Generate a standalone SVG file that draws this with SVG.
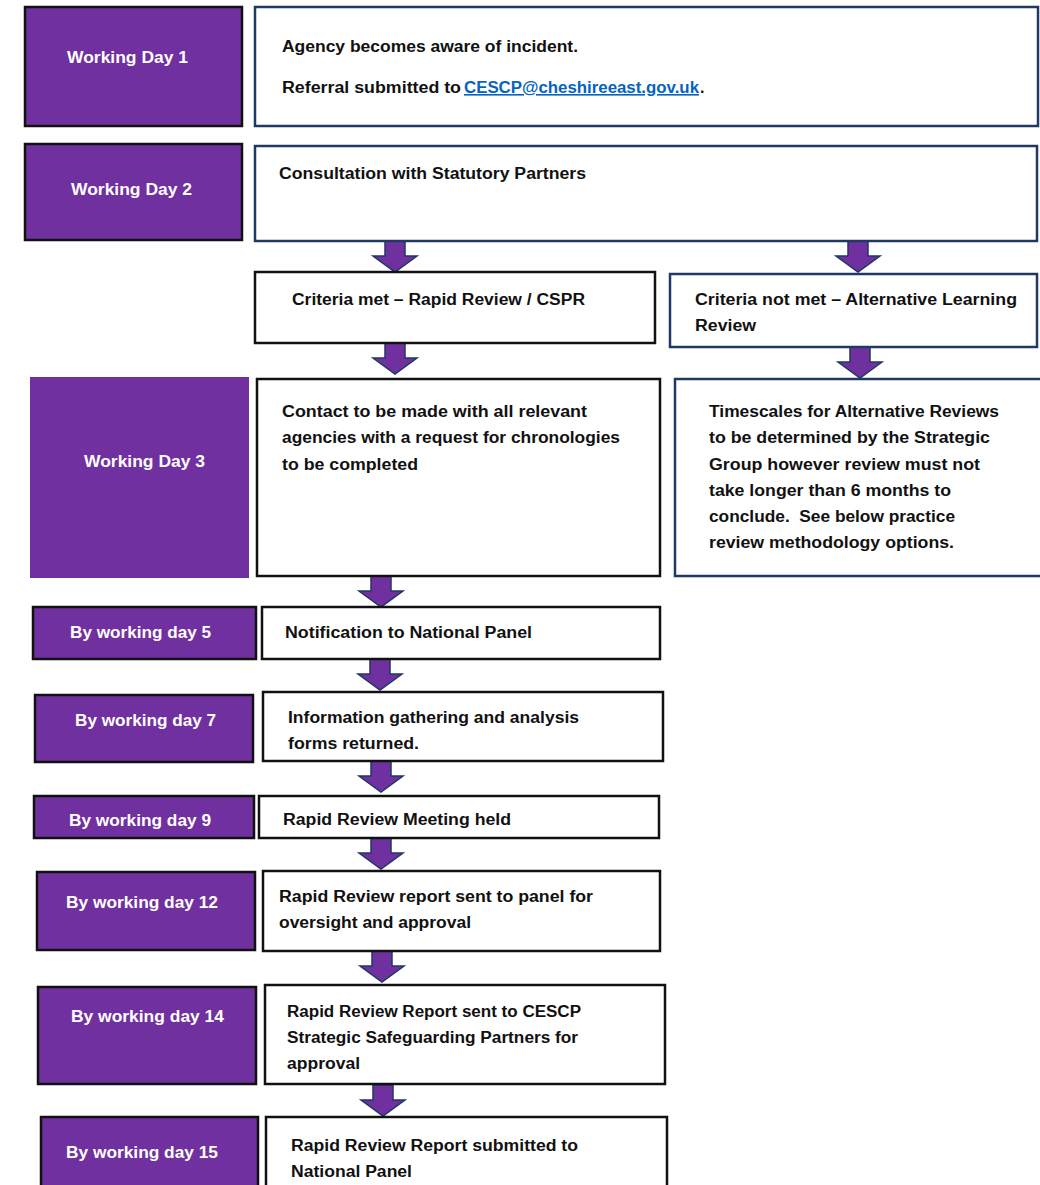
<svg xmlns="http://www.w3.org/2000/svg" xmlns:xlink="http://www.w3.org/1999/xlink" width="1040" height="1185" viewBox="0 0 1040 1185">
<style>
.day{fill:#7030a0;stroke:#111;stroke-width:2.5}
.dayn{fill:#7030a0;stroke:none}
.box{fill:#fff;stroke:#111;stroke-width:2.5}
.boxn{fill:#fff;stroke:#1f3864;stroke-width:2.5}
text{font-family:"Liberation Sans",Arial,sans-serif;font-weight:bold;font-size:16px}
.w{fill:#fff}
.t{fill:#111}
.link{fill:#0563c1;text-decoration:underline}
.arrow{fill:#7030a0;stroke:#1f3864;stroke-width:1.5}
</style>
<defs>
<path id="arr" class="arrow" d="M-10,0 H10 V15 H22 L0,31 L-22,15 H-10 Z"/>
</defs>
<rect width="1040" height="1185" fill="#fff"/>

<g id="connectors">
<use xlink:href="#arr" href="#arr" transform="translate(395,241)"/>
<use xlink:href="#arr" href="#arr" transform="translate(858,241)"/>
<use xlink:href="#arr" href="#arr" transform="translate(395,343)"/>
<use xlink:href="#arr" href="#arr" transform="translate(860,347)"/>
<use xlink:href="#arr" href="#arr" transform="translate(381,576)"/>
<use xlink:href="#arr" href="#arr" transform="translate(380,659)"/>
<use xlink:href="#arr" href="#arr" transform="translate(381,761)"/>
<use xlink:href="#arr" href="#arr" transform="translate(381,838)"/>
<use xlink:href="#arr" href="#arr" transform="translate(382,951)"/>
<use xlink:href="#arr" href="#arr" transform="translate(383,1085)"/>
</g>

<g id="day1">
<rect class="day" x="25" y="7" width="217" height="119"/>
<text class="w" x="67" y="63" textLength="121" lengthAdjust="spacingAndGlyphs">Working Day 1</text>
</g>
<g id="step1">
<rect class="boxn" x="255" y="7" width="783" height="119"/>
<text class="t" x="282" y="52" textLength="296" lengthAdjust="spacingAndGlyphs">Agency becomes aware of incident.</text>
<text class="t" x="282" y="93" textLength="179" lengthAdjust="spacingAndGlyphs">Referral submitted to</text>
<text class="link" x="464" y="93" textLength="235" lengthAdjust="spacingAndGlyphs">CESCP@cheshireeast.gov.uk</text>
<text class="t" x="700" y="93">.</text>
</g>

<g id="day2">
<rect class="day" x="25" y="144" width="217" height="96"/>
<text class="w" x="71" y="195" textLength="121" lengthAdjust="spacingAndGlyphs">Working Day 2</text>
</g>
<g id="step2">
<rect class="boxn" x="255" y="146" width="782" height="95"/>
<text class="t" x="279" y="179" textLength="307" lengthAdjust="spacingAndGlyphs">Consultation with Statutory Partners</text>
</g>

<g id="criteria-met">
<rect class="box" x="255" y="272" width="400" height="71"/>
<text class="t" x="292" y="305" textLength="293" lengthAdjust="spacingAndGlyphs">Criteria met – Rapid Review / CSPR</text>
</g>
<g id="criteria-not-met">
<rect class="boxn" x="670" y="274" width="367" height="73"/>
<text class="t" x="695" y="305" textLength="322" lengthAdjust="spacingAndGlyphs">Criteria not met – Alternative Learning</text>
<text class="t" x="695" y="331" textLength="61" lengthAdjust="spacingAndGlyphs">Review</text>
</g>

<g id="day3">
<rect class="dayn" x="30" y="377" width="219" height="201"/>
<text class="w" x="84" y="467" textLength="121" lengthAdjust="spacingAndGlyphs">Working Day 3</text>
</g>
<g id="step3">
<rect class="box" x="257" y="379" width="403" height="197"/>
<text class="t" x="282" y="417" textLength="305" lengthAdjust="spacingAndGlyphs">Contact to be made with all relevant</text>
<text class="t" x="282" y="443" textLength="338" lengthAdjust="spacingAndGlyphs">agencies with a request for chronologies</text>
<text class="t" x="282" y="470" textLength="136" lengthAdjust="spacingAndGlyphs">to be completed</text>
</g>
<g id="alt-timescales">
<rect class="boxn" x="675" y="379" width="367" height="197"/>
<text class="t" x="709" y="417" textLength="290" lengthAdjust="spacingAndGlyphs">Timescales for Alternative Reviews</text>
<text class="t" x="709" y="443" textLength="281" lengthAdjust="spacingAndGlyphs">to be determined by the Strategic</text>
<text class="t" x="709" y="470" textLength="271" lengthAdjust="spacingAndGlyphs">Group however review must not</text>
<text class="t" x="709" y="496" textLength="242" lengthAdjust="spacingAndGlyphs">take longer than 6 months to</text>
<text class="t" x="709" y="522" textLength="246" lengthAdjust="spacingAndGlyphs" xml:space="preserve">conclude.  See below practice</text>
<text class="t" x="709" y="548" textLength="245" lengthAdjust="spacingAndGlyphs">review methodology options.</text>
</g>

<g id="day5">
<rect class="day" x="33" y="607" width="223" height="52"/>
<text class="w" x="70" y="638" textLength="141" lengthAdjust="spacingAndGlyphs">By working day 5</text>
</g>
<g id="step5">
<rect class="box" x="262" y="607" width="398" height="52"/>
<text class="t" x="285" y="638" textLength="247" lengthAdjust="spacingAndGlyphs">Notification to National Panel</text>
</g>

<g id="day7">
<rect class="day" x="35" y="695" width="218" height="67"/>
<text class="w" x="75" y="726" textLength="141" lengthAdjust="spacingAndGlyphs">By working day 7</text>
</g>
<g id="step7">
<rect class="box" x="263" y="692" width="400" height="69"/>
<text class="t" x="288" y="723" textLength="291" lengthAdjust="spacingAndGlyphs">Information gathering and analysis</text>
<text class="t" x="288" y="749" textLength="131" lengthAdjust="spacingAndGlyphs">forms returned.</text>
</g>

<g id="day9">
<rect class="day" x="34" y="796" width="220" height="42"/>
<text class="w" x="69" y="826" textLength="142" lengthAdjust="spacingAndGlyphs">By working day 9</text>
</g>
<g id="step9">
<rect class="box" x="259" y="796" width="400" height="42"/>
<text class="t" x="283" y="825" textLength="228" lengthAdjust="spacingAndGlyphs">Rapid Review Meeting held</text>
</g>

<g id="day12">
<rect class="day" x="37" y="872" width="218" height="78"/>
<text class="w" x="66" y="908" textLength="152" lengthAdjust="spacingAndGlyphs">By working day 12</text>
</g>
<g id="step12">
<rect class="box" x="263" y="871" width="397" height="80"/>
<text class="t" x="279" y="902" textLength="314" lengthAdjust="spacingAndGlyphs">Rapid Review report sent to panel for</text>
<text class="t" x="279" y="928" textLength="192" lengthAdjust="spacingAndGlyphs">oversight and approval</text>
</g>

<g id="day14">
<rect class="day" x="38" y="987" width="218" height="97"/>
<text class="w" x="71" y="1022" textLength="153" lengthAdjust="spacingAndGlyphs">By working day 14</text>
</g>
<g id="step14">
<rect class="box" x="265" y="985" width="400" height="99"/>
<text class="t" x="287" y="1017" textLength="294" lengthAdjust="spacingAndGlyphs">Rapid Review Report sent to CESCP</text>
<text class="t" x="287" y="1043" textLength="291" lengthAdjust="spacingAndGlyphs">Strategic Safeguarding Partners for</text>
<text class="t" x="287" y="1069" textLength="73" lengthAdjust="spacingAndGlyphs">approval</text>
</g>

<g id="day15">
<rect class="day" x="41" y="1117" width="217" height="80"/>
<text class="w" x="66" y="1158" textLength="152" lengthAdjust="spacingAndGlyphs">By working day 15</text>
</g>
<g id="step15">
<rect class="box" x="266" y="1117" width="401" height="80"/>
<text class="t" x="291" y="1151" textLength="287" lengthAdjust="spacingAndGlyphs">Rapid Review Report submitted to</text>
<text class="t" x="291" y="1177" textLength="121" lengthAdjust="spacingAndGlyphs">National Panel</text>
</g>
</svg>
